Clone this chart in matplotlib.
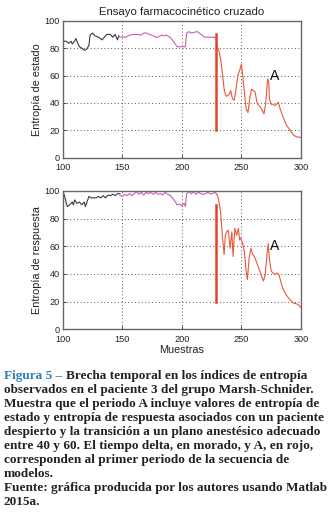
import matplotlib
matplotlib.use("Agg")
import matplotlib.pyplot as plt

# ---------------- data ----------------
title = "Ensayo farmacocinético cruzado"
xticks = [100, 150, 200, 250, 300]
yticks = [0, 20, 40, 60, 80, 100]

# Top panel: Entropía de estado
se_black_x = [100, 101, 103, 105, 107, 108, 110, 111, 112, 114, 116, 118, 120, 122, 123, 125, 127, 130, 133, 135, 137, 140, 142, 144, 146, 147]
se_black_y = [86, 85, 85, 83.5, 85, 83, 85, 87, 85, 81, 80, 78.5, 79, 82, 89.5, 91, 89, 88, 86, 88, 90, 90, 88, 90, 86, 89]
se_pink_x = [147, 148, 150, 153, 156, 160, 163, 166, 168, 170, 173, 176, 178, 180, 183, 185, 187, 190, 192, 194, 196, 200, 203, 204, 206, 208, 210, 213, 216, 219, 222, 226, 229]
se_pink_y = [89, 88, 88, 88, 89.5, 90, 90, 89.5, 91, 91, 90, 89, 88, 88, 89.5, 89, 89.5, 88, 86, 83.5, 81, 81, 81, 91, 92, 91, 91.5, 92, 90, 88, 88, 88, 87.5]
se_red_x = [229, 229.6, 231, 232.5, 234, 235.5, 237, 238, 240, 241, 242.5, 244, 245.5, 247, 248.5, 250, 251, 252.5, 254, 255.5, 257, 258.5, 260, 261.5, 263, 264.5, 266, 267.5, 269, 270.5, 272, 273, 273.5, 275, 276.5, 278, 279.5, 281, 282.5, 285.5, 288, 291, 294, 297, 300]
se_red_y = [87.5, 80.6, 79, 72, 62, 50, 45, 45, 46.6, 49, 43, 42, 50, 60, 63.6, 68.4, 61, 48, 35.7, 33, 43, 50, 49, 48, 40.5, 38, 37, 34.5, 32, 40.5, 57.5, 55, 43, 39, 39, 38, 39, 40.5, 35.7, 28.4, 23.5, 20, 16.3, 15, 15]

# Bottom panel: Entropía de respuesta
re_black_x = [100, 101, 102, 103, 104, 106, 108, 109, 110, 112, 114, 116, 118, 119, 121, 122, 124, 126, 128, 130, 132, 134, 136, 138, 140, 142, 144, 146, 148]
re_black_y = [96, 98, 95, 91, 88.7, 90, 92, 90, 93.5, 91, 92, 90, 92, 88.7, 93.5, 96, 95, 95, 95, 96, 95, 96.6, 95, 97, 96.6, 97.6, 96.6, 98, 98]
re_pink_x = [148, 150, 152, 154, 156, 158, 160, 162, 164, 166, 168, 170, 172, 174, 176, 178, 180, 182, 184, 186, 188, 190, 192, 194, 196, 198, 200, 202, 203, 204, 206, 208, 210, 212, 214, 216, 218, 220, 222, 224, 226, 228, 229]
re_pink_y = [97, 96, 97.6, 96.6, 98, 96.6, 98, 99.5, 97.6, 99, 97, 99, 98, 99, 97.6, 99, 97.6, 98, 97, 99, 97.6, 97, 95, 92.8, 90, 90.4, 89.4, 91, 88.7, 98, 99.5, 98, 99.5, 97.6, 99, 98, 97.6, 98, 99, 98, 98, 99.5, 97.6]
re_red_x = [229, 230, 231, 232.5, 234, 235.5, 236.5, 237.5, 239, 240.5, 242, 243, 244.5, 246, 247.5, 248.5, 249.5, 251, 252.5, 254, 255, 256.5, 258, 259.5, 261, 262.5, 264, 265.5, 267, 268.5, 270, 271.5, 272.5, 273.5, 275, 276.5, 278.5, 280, 281.5, 284.5, 287.5, 290.5, 293.5, 297.5, 300]
re_red_y = [97.6, 96.7, 93, 85, 68, 54, 68, 70.5, 71.7, 58.6, 70.5, 52.6, 73, 68, 73, 64.5, 66, 62, 56, 42, 36, 51.4, 58.6, 54, 52.6, 49, 45.5, 42, 38, 35, 39.5, 54, 62, 51, 42, 40.7, 39.5, 40.7, 39.5, 30, 25, 21.6, 19, 18, 15.7]

# Vertical marker of the delta period end
vline_x = 229
vline_lo = 20
vline_hi = 90
label_A = "A"
label_A_pos_top = (278, 59.5)
label_A_pos_bot = (278, 60)

caption_lines = [
    ("Figura 5 – ", "Brecha temporal en los índices de entropía"),
    ("", "observados en el paciente 3 del grupo Marsh-Schnider."),
    ("", "Muestra que el periodo A incluye valores de entropía de"),
    ("", "estado y entropía de respuesta asociados con un paciente"),
    ("", "despierto y la transición a un plano anestésico adecuado"),
    ("", "entre 40 y 60. El tiempo delta, en morado, y A, en rojo,"),
    ("", "corresponden al primer periodo de la secuencia de"),
    ("", "modelos."),
    ("", "Fuente: gráfica producida por los autores usando Matlab"),
    ("", "2015a."),
]

# ---------------- style ----------------
plt.rcParams['font.family'] = ['Liberation Sans', 'DejaVu Sans']
C_BLACK = '#3a3a3a'
C_PINK = '#c95fb4'
C_RED = '#e9573a'
C_VLINE = '#e2432a'

fig = plt.figure(figsize=(3.30, 5.24), dpi=100)
ax1 = fig.add_axes([0.190, 0.699, 0.722, 0.2615])
ax2 = fig.add_axes([0.190, 0.3716, 0.722, 0.2640])


def style(ax, ylabel):
    ax.set_xlim(100, 300)
    ax.set_ylim(0, 100)
    ax.set_xticks(xticks)
    ax.set_yticks(yticks)
    ax.tick_params(direction='in', labelsize=6.6, length=2.5, width=0.6, colors='#222222')
    ax.tick_params(axis='x', pad=4.0)
    ax.tick_params(axis='y', pad=2.0)
    ax.grid(True, linestyle=(0, (1, 2.5)), color='#555555', linewidth=0.7)
    for s in ax.spines.values():
        s.set_color('#666666')
        s.set_linewidth(1.0)
    ax.set_ylabel(ylabel, fontsize=7.8, labelpad=2, color='#222222')


ax1.plot(se_black_x, se_black_y, color=C_BLACK, lw=0.8)
ax1.plot(se_pink_x, se_pink_y, color=C_PINK, lw=0.8)
ax1.plot(se_red_x, se_red_y, color=C_RED, lw=0.8)
ax1.plot([vline_x, vline_x], [vline_lo, vline_hi], color=C_VLINE, lw=1.8)
ax1.text(*label_A_pos_top, label_A, fontsize=10, ha='center', va='center', color='#111111')
style(ax1, "Entropía de estado")
ax1.set_title(title, fontsize=8.2, pad=4, color='#222222')

ax2.plot(re_black_x, re_black_y, color=C_BLACK, lw=0.8)
ax2.plot(re_pink_x, re_pink_y, color=C_PINK, lw=0.8)
ax2.plot(re_red_x, re_red_y, color=C_RED, lw=0.8)
ax2.plot([vline_x, vline_x], [vline_lo, vline_hi], color=C_VLINE, lw=1.8)
ax2.text(*label_A_pos_bot, label_A, fontsize=10, ha='center', va='center', color='#111111')
style(ax2, "Entropía de respuesta")
ax2.set_xlabel("Muestras", fontsize=7.8, labelpad=1, color='#222222')

# caption
y0 = 1 - 375.7 / 524
dy = 14.0 / 524
x0 = 4 / 330
cap_font = dict(family=['Liberation Serif', 'DejaVu Serif'], weight='bold', fontsize=9.5)
for i, (head, body) in enumerate(caption_lines):
    y = y0 - i * dy
    if head:
        t = fig.text(x0, y, head, color='#2b7bb8', va='center', ha='left', **cap_font)
        fig.canvas.draw()
        bb = t.get_window_extent()
        x1 = bb.x1 / fig.bbox.width
        fig.text(x1, y, body, color='#222222', va='center', ha='left', **cap_font)
    else:
        fig.text(x0, y, body, color='#222222', va='center', ha='left', **cap_font)

fig.savefig("out.png", dpi=100, facecolor='white')
